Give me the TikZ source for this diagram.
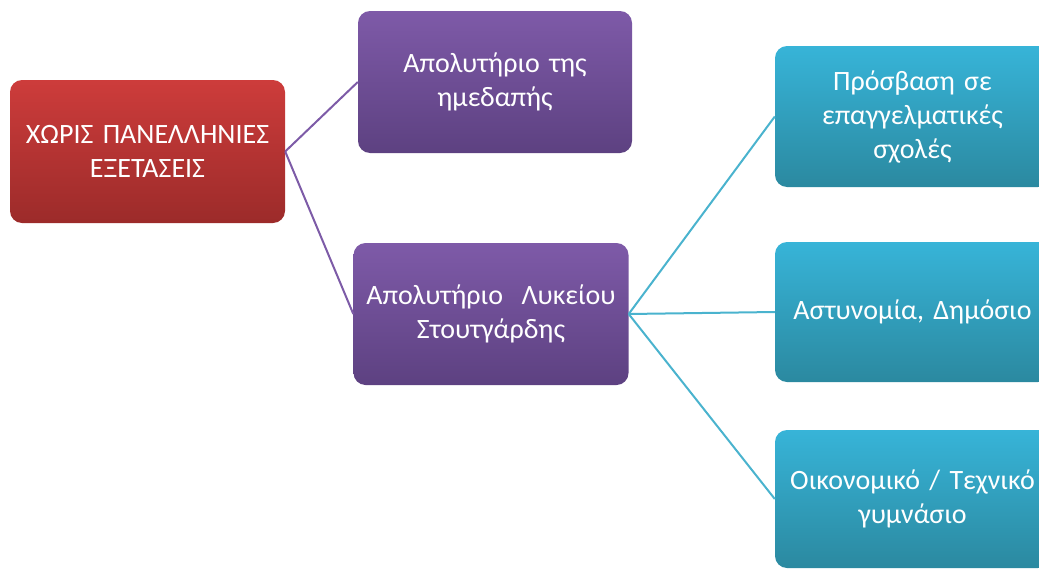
\documentclass[tikz,border=0pt]{standalone}
\usepackage{fontspec}
\setmainfont{Carlito}
\begin{document}
\begin{tikzpicture}[x=1pt,y=-1pt,
  boxbase/.style={rounded corners=12pt, minimum width=275pt, inner sep=0pt, text width=262pt, align=center, text=white, font=\fontsize{28}{34}\selectfont},
  redbox/.style={boxbase, top color=red1, bottom color=red2},
  purplebox/.style={boxbase, top color=pur1, bottom color=pur2},
  cyanbox/.style={boxbase, top color=cy1, bottom color=cy2},
  purline/.style={draw=purl, line width=2pt},
  cyline/.style={draw=cyl, line width=2pt}]
\definecolor{red1}{HTML}{CD3C3B}
\definecolor{red2}{HTML}{9C2B2A}
\definecolor{pur1}{HTML}{7E5AA8}
\definecolor{pur2}{HTML}{5D4181}
\definecolor{cy1}{HTML}{37B4D8}
\definecolor{cy2}{HTML}{2B89A0}
\definecolor{purl}{HTML}{7D5BA7}
\definecolor{cyl}{HTML}{4AB3CE}
\useasboundingbox (0,0) rectangle (1039,570);
\clip (0,0) rectangle (1039,570);
\node[redbox, minimum height=143pt] (red) at (147.5,151.5) {ΧΩΡΙΣ ΠΑΝΕΛΛΗΝΙΕΣ ΕΞΕΤΑΣΕΙΣ};
\node[purplebox, minimum width=274pt, minimum height=142pt] (p1) at (495,82) {Απολυτήριο της\\ημεδαπής};
\node[purplebox, minimum height=142pt] (p2) at (491,314) {Απολυτήριο\ \ Λυκείου\\Στουτγάρδης};
\node[cyanbox, minimum height=141pt] (c1) at (912.5,116.5) {Πρόσβαση σε\\επαγγελματικές\\σχολές};
\node[cyanbox, minimum height=140pt] (c2) at (912.5,312) {Αστυνομία, Δημόσιο};
\node[cyanbox, minimum height=138pt] (c3) at (912.5,499) {Οικονομικό / Τεχνικό\\γυμνάσιο};
\draw[purline] (red.east) -- (p1.west);
\draw[purline] (red.east) -- (p2.west);
\draw[cyline] (p2.east) -- (c1.west);
\draw[cyline] (p2.east) -- (c2.west);
\draw[cyline] (p2.east) -- (c3.west);
\end{tikzpicture}
\end{document}
